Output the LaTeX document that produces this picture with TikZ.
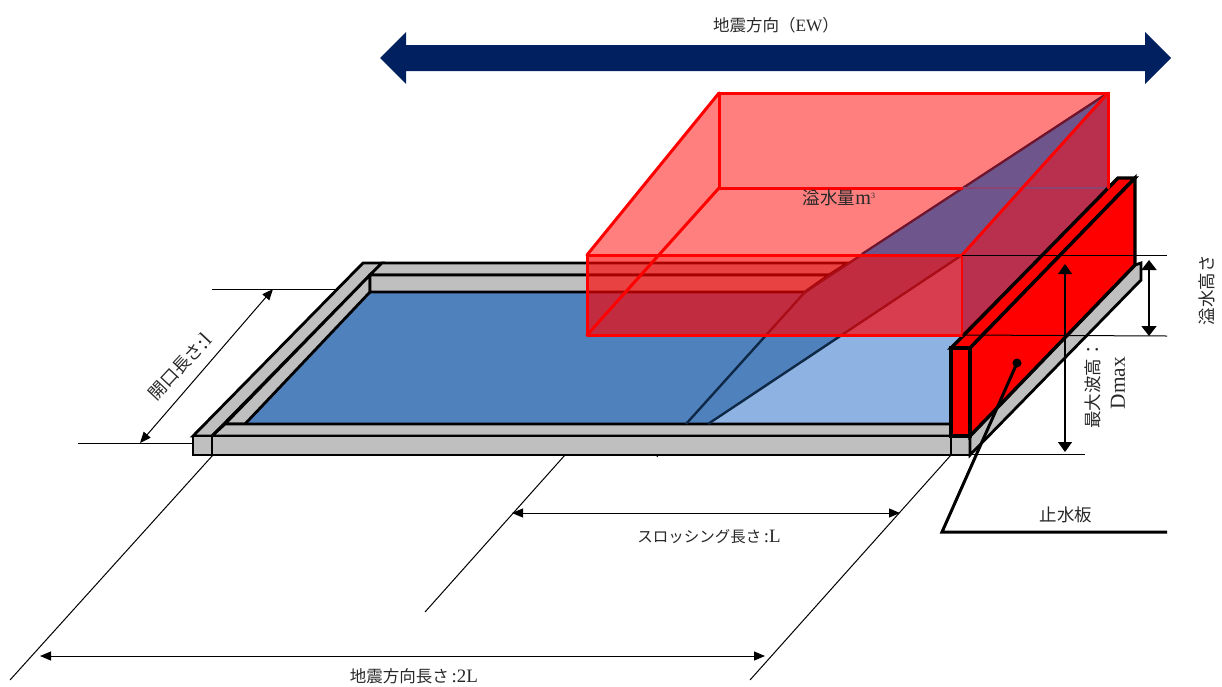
\documentclass[tikz,border=0pt]{standalone}
\usepackage{fontspec}
\usetikzlibrary{arrows.meta}
\setmainfont{Liberation Serif}
\newfontfamily\cjk{Noto Sans CJK JP}
\newcommand{\lat}[2][1.22]{{\rmfamily\scalebox{#1}{#2}}}
\definecolor{gr}{RGB}{191,191,191}
\definecolor{wdark}{RGB}{79,129,189}
\definecolor{wlight}{RGB}{142,178,226}
\definecolor{navyl}{RGB}{15,40,70}
\definecolor{navyb}{RGB}{0,32,96}
\definecolor{purp}{RGB}{110,85,140}
\definecolor{sidef}{RGB}{185,48,78}
\definecolor{dred}{RGB}{110,20,45}
\definecolor{txt}{RGB}{40,40,40}
\tikzset{
 bar/.style={fill=gr,draw=black,line width=2.8pt,line join=miter},
 platef/.style={fill=red,draw=black,line width=3.4pt,line join=miter},
 boxedge/.style={draw=red,line width=3pt,line cap=round},
 thin dim/.style={draw=black,line width=1pt},
 dimarrow/.style={draw=black,line width=1pt,{Triangle[length=11pt,width=9pt]}-{Triangle[length=11pt,width=9pt]}},
 vdim/.style={draw=black,line width=1.2pt,{Triangle[length=10pt,width=14pt]}-{Triangle[length=10pt,width=14pt]}},
 bigdim/.style={draw=black,line width=1.6pt,{Triangle[length=10pt,width=15pt]}-{Triangle[length=10pt,width=15pt]}},
 lbl/.style={inner sep=0pt,text=txt,font=\fontsize{16.5}{18}\selectfont\cjk},
 lblm/.style={inner sep=0pt,text=txt,font=\fontsize{17.5}{20}\selectfont\cjk},
 lblsm/.style={inner sep=0pt,text=txt,font=\fontsize{15.5}{18}\selectfont\cjk}
}
\begin{document}
\begin{tikzpicture}[x=1pt,y=-1pt]
\useasboundingbox (0,0) rectangle (1222,686);
% coordinates of the red box
\coordinate (fa) at (587,255); \coordinate (fb) at (962,255);
\coordinate (fc) at (962,335); \coordinate (fd) at (587,335);
\coordinate (ba) at (719,93);  \coordinate (bb) at (1108,93);
\coordinate (bc) at (1108,188);\coordinate (bd) at (719,188);
\coordinate (wa) at (805,292); \coordinate (wb) at (686,424); \coordinate (wc) at (708,424);
% top arrow
\fill[navyb] (380,58) -- (406,32) -- (406,45) -- (1145,45) -- (1145,32) -- (1171,58) -- (1145,84) -- (1145,71) -- (406,71) -- (406,84) -- cycle;
\node[lbl] (ttop) at (776,25) {地震方向（\lat[1.05]{EW}）};
% extension lines
\draw[thin dim] (212,289) -- (336,289);
\draw[thin dim] (78,443) -- (193,443);
\draw[thin dim] (213,455) -- (10,680);
\draw[thin dim] (565,455) -- (425,612);
\draw[thin dim] (951,455) -- (750,680);
\draw[thin dim] (970,454) -- (1085,454);
\draw[thin dim] (658,455) -- (657,457);
% water
\fill[wlight] (370,292) -- (906,292) -- (962,255) -- (962,336) -- (951,348) -- (951,424) -- (245,424) -- cycle;
\fill[wdark] (245,424) -- (370,292) -- (wa) -- (bb) -- (fb) -- (wc) -- cycle;
% frame
\draw[bar] (193,436) -- (363,263) -- (382,263) -- (370,275) -- (212,436) -- cycle;
\draw[bar] (225,424) -- (370,275) -- (370,292) -- (245,424) -- cycle;
\draw[bar] (382,263) -- (848,263) -- (829,275) -- (370,275) -- cycle;
\draw[bar] (370,275) -- (829,275) -- (805,292) -- (370,292) -- cycle;
\draw[bar] (225,424) -- (951,424) -- (951,436) -- (212,436) -- cycle;
\draw[bar] (212,436) -- (951,436) -- (951,455) -- (212,455) -- cycle;
\draw[bar] (193,436) -- (212,436) -- (212,455) -- (193,455) -- cycle;
\draw[bar] (951,436) -- (970,436) -- (970,455) -- (951,455) -- cycle;
\draw[bar] (970,436) -- (1135,265) -- (1141,263) -- (1141,280) -- (970,455) -- cycle;
% wave edges
\draw[navyl,line width=2.4pt] (wb) -- (wa) -- (bb);
\draw[navyl,line width=2.4pt] (wc) -- (fb);
% translucent volume
\fill[red,fill opacity=.5] (fd) -- (fa) -- (ba) -- (bb) -- (fb) -- (fc) -- cycle;
\fill[red,fill opacity=.3] (fa) -- (fb) -- (fc) -- (fd) -- cycle;
\fill[purp] (862,254) -- (bb) -- (fb) -- cycle;
\fill[sidef] (fb) -- (bb) -- (bc) -- (fc) -- cycle;
\draw[dred,line width=2.2pt] (862,254) -- (bb);
\draw[purp!80!red,line width=1.5pt] (962,188) -- (bc);
\draw[red!65!black,line width=1.5pt] (fc) -- (bc);
% plate
\draw[platef] (951,348) -- (963,336) -- (1118,178) -- (1135,178) -- (970,348) -- cycle;
\draw[platef] (970,348) -- (1135,178) -- (1135,265) -- (970,436) -- cycle;
\draw[platef] (951,348) -- (970,348) -- (970,436) -- (951,436) -- cycle;
% red edges
\draw[boxedge] (ba) -- (bb) -- (bc);
\draw[boxedge] (ba) -- (bd) -- (962,188);
\draw[boxedge] (fa) -- (ba);
\draw[boxedge] (fd) -- (bd);
\draw[boxedge] (fb) -- (bb);
\draw[boxedge] (fa) -- (fb);
\draw[boxedge] (fd) -- (fc);
\draw[boxedge] (fa) -- (fd);
\draw[draw=red,line width=2pt] (fb) -- (fc);
% dimension lines on the right
\draw[thin dim] (fb) -- (1167,255);
\draw[thin dim] (fc) -- (1167,336);
\draw[vdim] (1065,264) -- (1065,452);
\draw[bigdim] (1149,260) -- (1149,336);
% other dimension arrows
\draw[dimarrow] (273,289) -- (140,443);
\draw[dimarrow] (512,513) -- (900,513);
\draw[dimarrow] (40,656) -- (765,656);
% leader
\fill[black] (1017,363) circle (4.5pt);
\draw[black,line width=3pt,line join=miter] (1017,363) -- (942,532) -- (1167,532);
% labels
\node[lblm] (tv) at (839,198) {溢水量\lat[1.15]{m}\raisebox{6pt}{\fontsize{8}{8}\selectfont\rmfamily 3}};
\node[lblm,rotate=90] (th) at (1207,290) {溢水高さ};
\node[lblm,rotate=90] (tw) at (1093,385) {最大波高：};
\node[lblm,rotate=90] (td) at (1118,383) {\lat{Dmax}};
\node[lblm] (ts) at (1066,515) {止水板};
\node[lblm,rotate=47] (tl) at (180,367) {開口長さ\lat{:l}};
\node[lblsm] (tsl) at (709,537) {スロッシング長さ\,\lat{:L}};
\node[lbl] (t2l) at (414,676) {地震方向長さ\,\lat[1.15]{:2L}};
\end{tikzpicture}
\end{document}
